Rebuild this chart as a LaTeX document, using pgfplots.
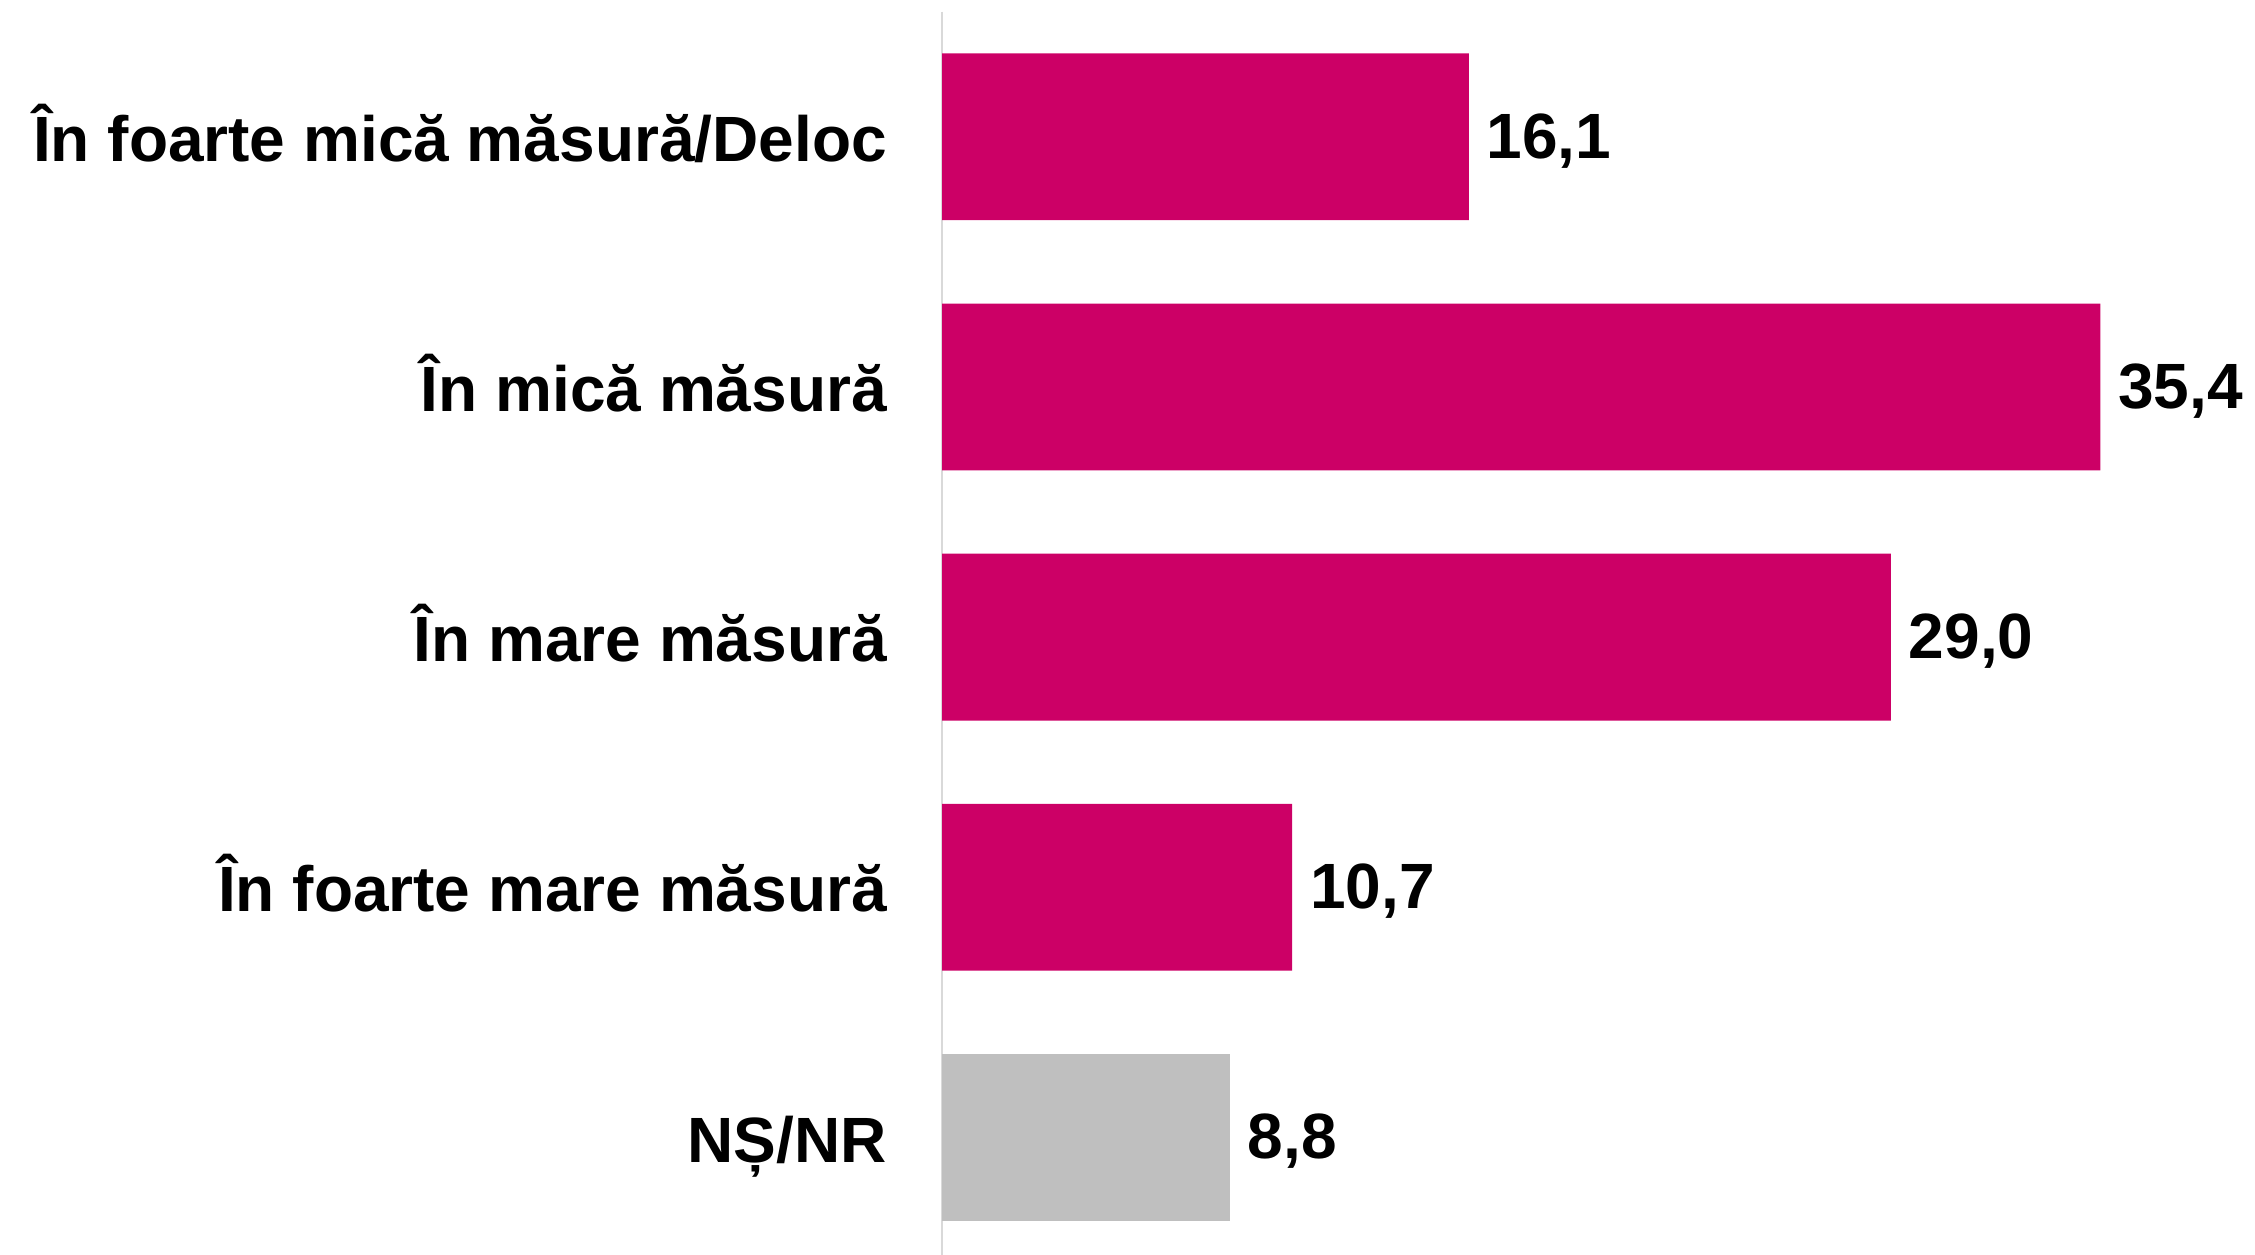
\documentclass[border=0pt]{standalone}
\usepackage{pgfplots}
\pgfplotsset{compat=1.18}
\usepackage{fontspec}
\setmainfont{Liberation Sans}
\definecolor{barmag}{HTML}{CC0066}
\definecolor{bargray}{HTML}{BFBFBF}
\definecolor{axgray}{HTML}{D9D9D9}
\begin{document}
\begin{tikzpicture}
\begin{axis}[
  at={(235.5pt,-2.15pt)}, anchor=south west,
  scale only axis, width=327.2pt, height=312.75pt,
  xmin=0, xmax=40, ymin=-0.5, ymax=4.5, y dir=reverse,
  xbar, bar shift=0pt, bar width=41.7pt,
  hide x axis,
  axis y line*=left,
  y axis line style={draw=axgray, line width=0.5pt},
  ytick={0,1,2,3,4},
  yticklabels={În foarte mică măsură/Deloc, În mică măsură, În mare măsură, În foarte mare măsură, NȘ/NR},
  major tick length=0pt,
  yticklabel shift=13.6pt,
  y tick label style={font=\fontsize{16}{19}\selectfont\bfseries, inner sep=0pt, anchor=east, text height=14.9pt, text depth=0pt, yshift=1.3pt},
  clip=false,
  nodes near coords={\pgfmathprintnumber[fixed,fixed zerofill,precision=1,use comma,assume math mode=true]{\pgfplotspointmeta}},
  nodes near coords style={font=\fontsize{16}{19}\selectfont\bfseries, anchor=west, inner sep=0pt, xshift=4.3pt, yshift=-1pt, text=black},
]
\addplot[fill=barmag, draw=none] coordinates {(16.1,0) (35.4,1) (29.0,2) (10.7,3)};
\addplot[fill=bargray, draw=none] coordinates {(8.8,4)};
\end{axis}
\pgfresetboundingbox
\path (0,0) rectangle (563.75pt,313.5pt);
\end{tikzpicture}
\end{document}
